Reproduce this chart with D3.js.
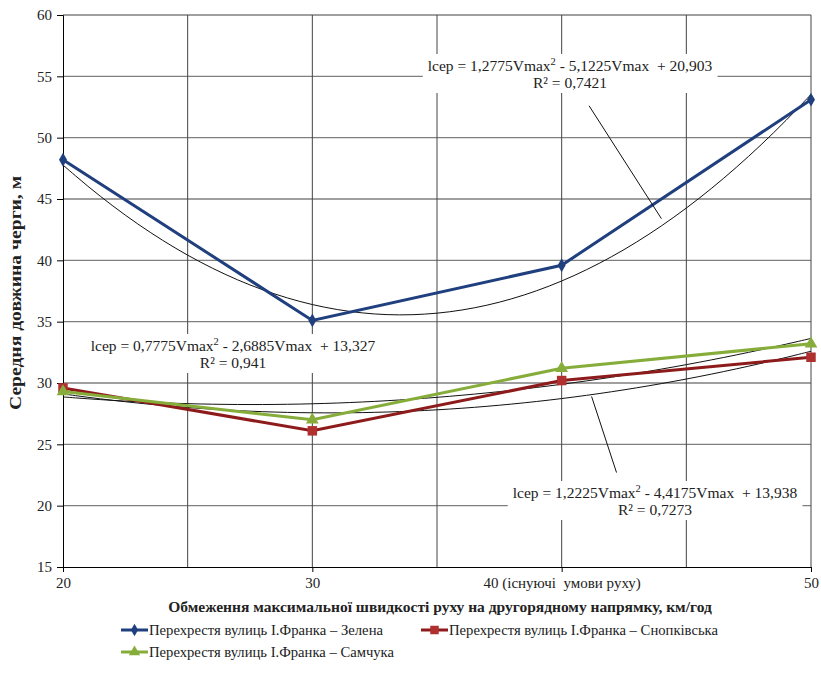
<!DOCTYPE html>
<html>
<head>
<meta charset="utf-8">
<script src="https://cdn.jsdelivr.net/npm/d3@7"></script>
<style>
  body { margin: 0; background: #fff; }
  .tick text { font-size: 15px; fill: #222; }
  .eq { font-size: 15.5px; fill: #222; white-space: pre; }
  .legend text { font-size: 15px; fill: #222; }
</style>
</head>
<body>
<svg id="chart" width="821" height="682"></svg>
<script>
// ---------------- data ----------------
const speeds = [20, 30, 40, 50];
const zelena = [48.2, 35.1, 39.6, 53.1];
const snopkivska = [29.6, 26.1, 30.2, 32.1];
const samchuka = [29.3, 27.0, 31.2, 33.2];
const seriesNames = [
  'Перехрестя вулиць І.Франка – Зелена',
  'Перехрестя вулиць І.Франка – Снопківська',
  'Перехрестя вулиць І.Франка – Самчука'
];
const yTicks = [15, 20, 25, 30, 35, 40, 45, 50, 55, 60];
const xGrid = [20, 25, 30, 35, 40, 45, 50];
const xLabels = ['20', '30', '40 (існуючі  умови руху)', '50'];
const equations = [
  ['lcep = 1,2775Vmax', ' - 5,1225Vmax  + 20,903', 'R² = 0,7421'],
  ['lcep = 0,7775Vmax', ' - 2,6885Vmax  + 13,327', 'R² = 0,941'],
  ['lcep = 1,2225Vmax', ' - 4,4175Vmax  + 13,938', 'R² = 0,7273']
];

const FONT = '"Liberation Serif", "Times New Roman", "DejaVu Serif", serif';
const svg = d3.select('#chart');
const mLeft = 63, mRight = 811, mTop = 15, mBottom = 567;

const x = d3.scaleLinear().domain([20, 50]).range([mLeft, mRight]);
const y = d3.scaleLinear().domain([15, 60]).range([mBottom, mTop]);

//------ gridlines
svg.append('g').selectAll('line').data(yTicks.slice(1)).join('line')
  .attr('x1', mLeft).attr('x2', mRight)
  .attr('y1', d => y(d)).attr('y2', d => y(d))
  .attr('stroke', '#7f7f7f').attr('stroke-width', 1.4);

svg.append('g').selectAll('line').data(xGrid.slice(1)).join('line')
  .attr('x1', d => x(d)).attr('x2', d => x(d))
  .attr('y1', mTop).attr('y2', mBottom)
  .attr('stroke', '#444').attr('stroke-width', 1);

//------ axes
const yAxis = d3.axisLeft(y).tickValues(yTicks).tickSize(6).tickPadding(5);
svg.append('g').attr('transform', `translate(${mLeft},0)`).call(yAxis)
  .attr('font-size', null)
  .call(g => g.select('.domain').attr('stroke', '#000'))
  .call(g => g.selectAll('.tick line').attr('stroke', '#000'));

const xAxis = d3.axisBottom(x).tickValues(speeds)
  .tickFormat((d, i) => xLabels[i]).tickSize(5).tickPadding(5);
svg.append('g').attr('transform', `translate(0,${mBottom})`).call(xAxis)
  .attr('font-size', null)
  .call(g => g.select('.domain').attr('stroke', '#000'))
  .call(g => g.selectAll('.tick line').attr('stroke', '#000'))
  .call(g => g.selectAll('.tick text').style('white-space', 'pre'));

//------ axis titles
svg.append('text')
  .attr('x', (mLeft + mRight) / 2 + 3).attr('y', 612)
  .attr('text-anchor', 'middle')
  .style('font-size', '15.5px').style('font-weight', 'bold').attr('fill', '#222')
  .text('Обмеження максимальної швидкості руху на другорядному напрямку, км/год');

svg.append('text')
  .attr('transform', `translate(21,${(mTop + mBottom) / 2 + 2}) rotate(-90)`)
  .attr('text-anchor', 'middle')
  .style('font-size', '16px').style('font-weight', 'bold').attr('fill', '#222')
  .attr('textLength', 234).attr('lengthAdjust', 'spacingAndGlyphs')
  .text('Середня довжина черги, м');

//------ quadratic least-squares trend from the data
function quadFit(xs, ys) {
  let s = [0, 0, 0, 0, 0], t = [0, 0, 0];
  xs.forEach((xv, i) => {
    for (let k = 0; k < 5; k++) s[k] += Math.pow(xv, k);
    for (let k = 0; k < 3; k++) t[k] += ys[i] * Math.pow(xv, k);
  });
  const A = [[s[0], s[1], s[2]], [s[1], s[2], s[3]], [s[2], s[3], s[4]]];
  const det = m => m[0][0]*(m[1][1]*m[2][2]-m[1][2]*m[2][1]) - m[0][1]*(m[1][0]*m[2][2]-m[1][2]*m[2][0]) + m[0][2]*(m[1][0]*m[2][1]-m[1][1]*m[2][0]);
  const D = det(A);
  const coef = [0, 1, 2].map(c => det(A.map((row, r) => row.map((v, j) => j === c ? t[r] : v))) / D);
  return xv => coef[0] + coef[1] * xv + coef[2] * xv * xv;
}

const series = [
  { values: zelena, color: '#1f3f7e', marker: d3.symbolDiamond, size: 55 },
  { values: snopkivska, color: '#8e1b1b', marker: d3.symbolSquare, size: 90, markFill: '#b03030' },
  { values: samchuka, color: '#86ad3a', marker: d3.symbolTriangle, size: 70 }
];

const trendLine = d3.line().x(d => x(d[0])).y(d => y(d[1])).curve(d3.curveBasis);
const xs = d3.range(20, 50.01, 0.5);
series.forEach(s => {
  const f = quadFit(speeds, s.values);
  svg.append('path')
    .attr('d', trendLine(xs.map(v => [v, f(v)])))
    .attr('fill', 'none').attr('stroke', '#111').attr('stroke-width', 1);
});

//------ series lines and markers
const line = d3.line().x((d, i) => x(speeds[i])).y(d => y(d));
series.forEach(s => {
  svg.append('path')
    .attr('d', line(s.values))
    .attr('fill', 'none').attr('stroke', s.color).attr('stroke-width', 3);
  svg.append('g').selectAll('path').data(s.values).join('path')
    .attr('transform', (d, i) => `translate(${x(speeds[i])},${y(d)})`)
    .attr('d', d3.symbol(s.marker, s.size))
    .attr('fill', s.markFill || s.color);
});

//------ equation labels
const eqPos = [[570, 71], [233, 351], [655, 498]];
const leaders = [[[41.1, 52.6], [44.0, 43.4]], [], [[41.2, 28.9], [42.2, 22.7]]];

leaders.forEach(l => {
  if (!l.length) return;
  svg.append('line')
    .attr('x1', x(l[0][0])).attr('y1', y(l[0][1]))
    .attr('x2', x(l[1][0])).attr('y2', y(l[1][1]))
    .attr('stroke', '#111').attr('stroke-width', 1);
});

const eqGroups = equations.map((eq, i) => {
  const [cx, cy] = eqPos[i];
  const g = svg.append('g');
  g.append('rect').attr('fill', '#fff');
  const t1 = g.append('text').attr('x', cx).attr('y', cy).attr('text-anchor', 'middle').attr('class', 'eq');
  t1.append('tspan').text(eq[0]);
  t1.append('tspan').attr('dy', -6).style('font-size', '10.5px').text('2');
  t1.append('tspan').attr('dy', 6).text(eq[1]);
  g.append('text').attr('x', cx).attr('y', cy + 17).attr('text-anchor', 'middle').attr('class', 'eq').text(eq[2]);
  return g;
});

//------ legend
const legendPos = [[121, 630], [421, 630], [121, 652]];
const legendLen = [234, 269, 245];
const legend = svg.append('g').attr('class', 'legend');
series.forEach((s, i) => {
  const [lx, ly] = legendPos[i];
  const g = legend.append('g').attr('transform', `translate(${lx},${ly})`);
  g.append('line').attr('x1', 0).attr('x2', 27).attr('y1', 0).attr('y2', 0)
    .attr('stroke', s.color).attr('stroke-width', 3);
  g.append('path').attr('transform', 'translate(13.5,0)')
    .attr('d', d3.symbol(s.marker, s.size * 0.8)).attr('fill', s.markFill || s.color);
  g.append('text').attr('x', 28).attr('y', 5).text(seriesNames[i])
    .attr('textLength', legendLen[i]).attr('lengthAdjust', 'spacingAndGlyphs');
});

//------ one serif family everywhere, then size the label backgrounds
svg.selectAll('g').attr('font-family', null);
svg.selectAll('text').style('font-family', FONT);
eqGroups.forEach(g => {
  const bb = g.node().getBBox();
  g.select('rect').attr('x', bb.x - 5).attr('y', bb.y - 2)
    .attr('width', bb.width + 10).attr('height', bb.height + 4);
});
</script>
</body>
</html>
